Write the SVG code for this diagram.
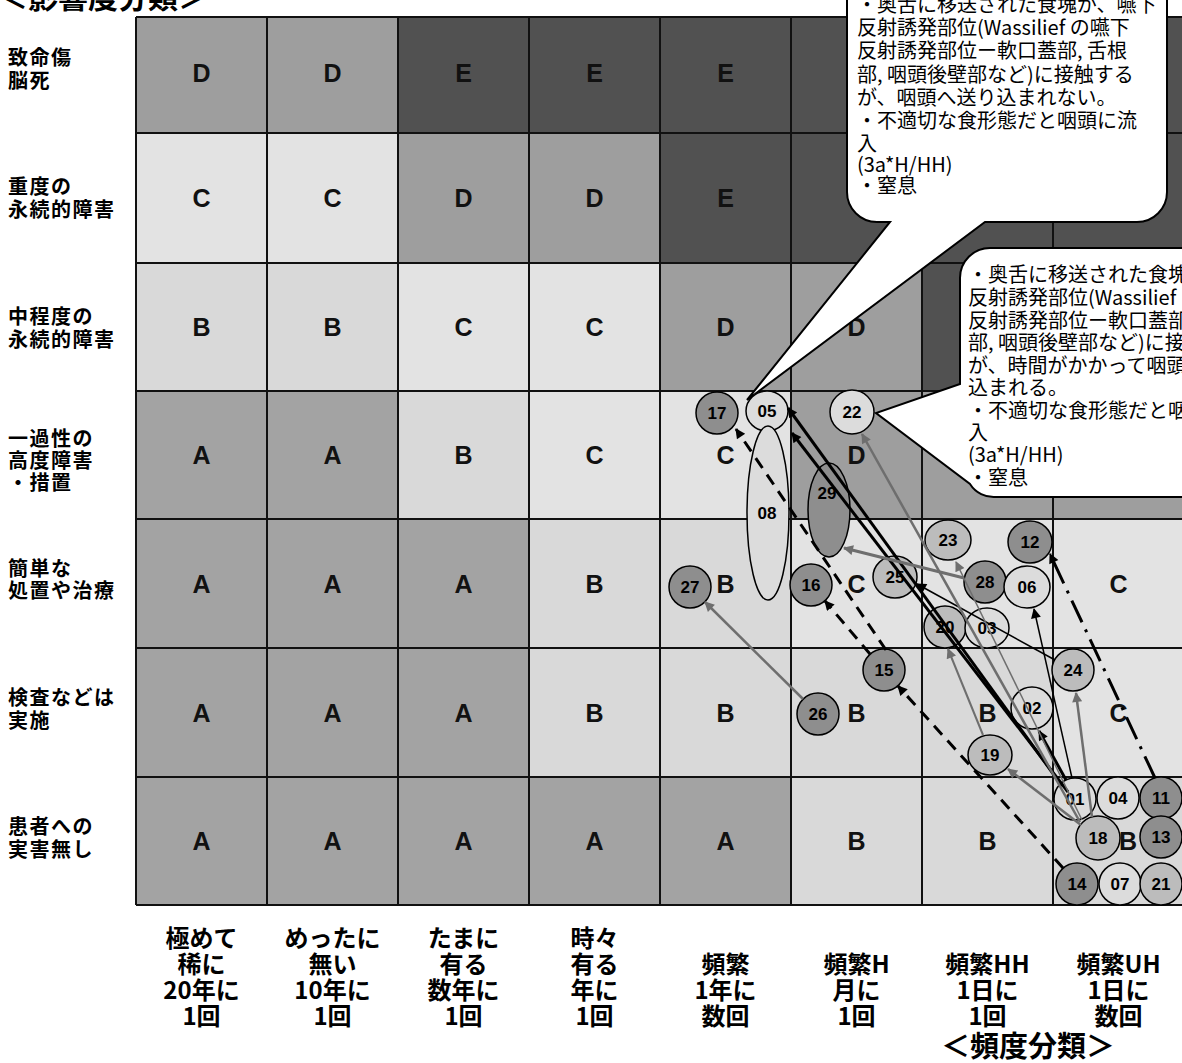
<svg xmlns="http://www.w3.org/2000/svg" width="1182" height="1063" viewBox="0 0 1182 1063">
<defs>
<style>
.A{fill:#a3a3a3}.B{fill:#d9d9d9}.C{fill:#e3e3e3}.D{fill:#9e9e9e}.E{fill:#515151}
.grid{stroke:#111;stroke-width:2;fill:none}
.gl{font-family:"Liberation Sans",Arial,sans-serif;font-weight:bold;font-size:25px;text-anchor:middle;fill:#111}
.yl{font-family:"Noto Sans CJK JP",sans-serif;font-weight:bold;font-size:20px;letter-spacing:1.5px;fill:#000}
.xl{font-family:"Noto Sans CJK JP",sans-serif;font-weight:bold;font-size:24px;text-anchor:middle;fill:#000}
.ttl{font-family:"Noto Sans CJK JP",sans-serif;font-weight:bold;font-size:30px;fill:#000}
.bub{fill:#fff;stroke:#000;stroke-width:2}
.bt{font-family:"Noto Sans CJK JP",sans-serif;font-size:20px;fill:#000}
.n{stroke:#000;stroke-width:1.5}
.n1{fill:#dcdcdc}.n2{fill:#bcbcbc}.n3{fill:#8e8e8e}
.nl{font-family:"Liberation Sans",Arial,sans-serif;font-weight:bold;font-size:17px;text-anchor:middle;fill:#000}
.k{stroke:#000;fill:none}
.g{stroke:#6e6e6e;fill:none}
.dash{stroke-dasharray:12 8}
.dd{stroke-dasharray:24 8 3 8}
</style>
<marker id="mk" viewBox="0 0 10 10" refX="9" refY="5" markerWidth="12" markerHeight="10" markerUnits="userSpaceOnUse" orient="auto"><path d="M0,0L10,5L0,10z" fill="#000"/></marker>
<marker id="mg" viewBox="0 0 10 10" refX="9" refY="5" markerWidth="12" markerHeight="10" markerUnits="userSpaceOnUse" orient="auto"><path d="M0,0L10,5L0,10z" fill="#6e6e6e"/></marker>
</defs>
<rect x="0" y="0" width="1182" height="1063" fill="#fff"/>
<text class="ttl" x="-2" y="8">＜影響度分類＞</text>

<g id="cells">
<rect class="D" x="136" y="17" width="131" height="116"/><rect class="D" x="267" y="17" width="131" height="116"/><rect class="E" x="398" y="17" width="131" height="116"/><rect class="E" x="529" y="17" width="131" height="116"/><rect class="E" x="660" y="17" width="131" height="116"/><rect class="E" x="791" y="17" width="131" height="116"/><rect class="E" x="922" y="17" width="131" height="116"/><rect class="E" x="1053" y="17" width="131" height="116"/>
<rect class="C" x="136" y="133" width="131" height="130"/><rect class="C" x="267" y="133" width="131" height="130"/><rect class="D" x="398" y="133" width="131" height="130"/><rect class="D" x="529" y="133" width="131" height="130"/><rect class="E" x="660" y="133" width="131" height="130"/><rect class="E" x="791" y="133" width="131" height="130"/><rect class="E" x="922" y="133" width="131" height="130"/><rect class="E" x="1053" y="133" width="131" height="130"/>
<rect class="B" x="136" y="263" width="131" height="128"/><rect class="B" x="267" y="263" width="131" height="128"/><rect class="C" x="398" y="263" width="131" height="128"/><rect class="C" x="529" y="263" width="131" height="128"/><rect class="D" x="660" y="263" width="131" height="128"/><rect class="D" x="791" y="263" width="131" height="128"/><rect class="E" x="922" y="263" width="131" height="128"/><rect class="E" x="1053" y="263" width="131" height="128"/>
<rect class="A" x="136" y="391" width="131" height="128"/><rect class="A" x="267" y="391" width="131" height="128"/><rect class="B" x="398" y="391" width="131" height="128"/><rect class="C" x="529" y="391" width="131" height="128"/><rect class="C" x="660" y="391" width="131" height="128"/><rect class="D" x="791" y="391" width="131" height="128"/><rect class="D" x="922" y="391" width="131" height="128"/><rect class="D" x="1053" y="391" width="131" height="128"/>
<rect class="A" x="136" y="519" width="131" height="129"/><rect class="A" x="267" y="519" width="131" height="129"/><rect class="A" x="398" y="519" width="131" height="129"/><rect class="B" x="529" y="519" width="131" height="129"/><rect class="B" x="660" y="519" width="131" height="129"/><rect class="C" x="791" y="519" width="131" height="129"/><rect class="C" x="922" y="519" width="131" height="129"/><rect class="C" x="1053" y="519" width="131" height="129"/>
<rect class="A" x="136" y="648" width="131" height="129"/><rect class="A" x="267" y="648" width="131" height="129"/><rect class="A" x="398" y="648" width="131" height="129"/><rect class="B" x="529" y="648" width="131" height="129"/><rect class="B" x="660" y="648" width="131" height="129"/><rect class="B" x="791" y="648" width="131" height="129"/><rect class="B" x="922" y="648" width="131" height="129"/><rect class="C" x="1053" y="648" width="131" height="129"/>
<rect class="A" x="136" y="777" width="131" height="128"/><rect class="A" x="267" y="777" width="131" height="128"/><rect class="A" x="398" y="777" width="131" height="128"/><rect class="A" x="529" y="777" width="131" height="128"/><rect class="A" x="660" y="777" width="131" height="128"/><rect class="B" x="791" y="777" width="131" height="128"/><rect class="B" x="922" y="777" width="131" height="128"/><rect class="B" x="1053" y="777" width="131" height="128"/>
<path class="grid" d="M136,17V905M267,17V905M398,17V905M529,17V905M660,17V905M791,17V905M922,17V905M1053,17V905M136,17H1184M136,133H1184M136,263H1184M136,391H1184M136,519H1184M136,648H1184M136,777H1184M136,905H1184"/>
</g>

<g id="grades">
<text class="gl" x="201.5" y="82">D</text><text class="gl" x="332.5" y="82">D</text><text class="gl" x="463.5" y="82">E</text><text class="gl" x="594.5" y="82">E</text><text class="gl" x="725.5" y="82">E</text>
<text class="gl" x="201.5" y="207">C</text><text class="gl" x="332.5" y="207">C</text><text class="gl" x="463.5" y="207">D</text><text class="gl" x="594.5" y="207">D</text><text class="gl" x="725.5" y="207">E</text>
<text class="gl" x="201.5" y="336">B</text><text class="gl" x="332.5" y="336">B</text><text class="gl" x="463.5" y="336">C</text><text class="gl" x="594.5" y="336">C</text><text class="gl" x="725.5" y="336">D</text><text class="gl" x="856.5" y="336">D</text>
<text class="gl" x="201.5" y="464">A</text><text class="gl" x="332.5" y="464">A</text><text class="gl" x="463.5" y="464">B</text><text class="gl" x="594.5" y="464">C</text><text class="gl" x="725.5" y="464">C</text><text class="gl" x="856.5" y="464">D</text>
<text class="gl" x="201.5" y="593">A</text><text class="gl" x="332.5" y="593">A</text><text class="gl" x="463.5" y="593">A</text><text class="gl" x="594.5" y="593">B</text><text class="gl" x="725.5" y="593">B</text><text class="gl" x="856.5" y="593">C</text><text class="gl" x="1118.5" y="593">C</text>
<text class="gl" x="201.5" y="722">A</text><text class="gl" x="332.5" y="722">A</text><text class="gl" x="463.5" y="722">A</text><text class="gl" x="594.5" y="722">B</text><text class="gl" x="725.5" y="722">B</text><text class="gl" x="856.5" y="722">B</text><text class="gl" x="987.5" y="722">B</text><text class="gl" x="1118.5" y="722">C</text>
<text class="gl" x="201.5" y="850">A</text><text class="gl" x="332.5" y="850">A</text><text class="gl" x="463.5" y="850">A</text><text class="gl" x="594.5" y="850">A</text><text class="gl" x="725.5" y="850">A</text><text class="gl" x="856.5" y="850">B</text><text class="gl" x="987.5" y="850">B</text><text class="gl" x="1128" y="850">B</text>
</g>

<g id="severity-labels">
<text class="yl" x="8" y="65">致命傷</text><text class="yl" x="8" y="88">脳死</text>
<text class="yl" x="8" y="194">重度の</text><text class="yl" x="8" y="217">永続的障害</text>
<text class="yl" x="8" y="324">中程度の</text><text class="yl" x="8" y="347">永続的障害</text>
<text class="yl" x="8" y="446">一過性の</text><text class="yl" x="8" y="468">高度障害</text><text class="yl" x="8" y="490">・措置</text>
<text class="yl" x="8" y="576">簡単な</text><text class="yl" x="8" y="598">処置や治療</text>
<text class="yl" x="8" y="705">検査などは</text><text class="yl" x="8" y="728">実施</text>
<text class="yl" x="8" y="834">患者への</text><text class="yl" x="8" y="857">実害無し</text>
</g>

<g id="frequency-labels">
<text class="xl" x="201.5" y="947">極めて</text><text class="xl" x="201.5" y="973">稀に</text><text class="xl" x="201.5" y="999">20年に</text><text class="xl" x="201.5" y="1025">1回</text>
<text class="xl" x="332.5" y="947">めったに</text><text class="xl" x="332.5" y="973">無い</text><text class="xl" x="332.5" y="999">10年に</text><text class="xl" x="332.5" y="1025">1回</text>
<text class="xl" x="463.5" y="947">たまに</text><text class="xl" x="463.5" y="973">有る</text><text class="xl" x="463.5" y="999">数年に</text><text class="xl" x="463.5" y="1025">1回</text>
<text class="xl" x="594.5" y="947">時々</text><text class="xl" x="594.5" y="973">有る</text><text class="xl" x="594.5" y="999">年に</text><text class="xl" x="594.5" y="1025">1回</text>
<text class="xl" x="725.5" y="973">頻繁</text><text class="xl" x="725.5" y="999">1年に</text><text class="xl" x="725.5" y="1025">数回</text>
<text class="xl" x="856.5" y="973">頻繁H</text><text class="xl" x="856.5" y="999">月に</text><text class="xl" x="856.5" y="1025">1回</text>
<text class="xl" x="987.5" y="973">頻繁HH</text><text class="xl" x="987.5" y="999">1日に</text><text class="xl" x="987.5" y="1025">1回</text>
<text class="xl" x="1118.5" y="973">頻繁UH</text><text class="xl" x="1118.5" y="999">1日に</text><text class="xl" x="1118.5" y="1025">数回</text>
<text class="ttl" x="1028" y="1057" text-anchor="middle" style="font-size:29px">＜頻度分類＞</text>
</g>

<g id="callout-1">
<path class="bub" d="M847,-40V192A30,30 0 0 0 877,222H890L747,400L985,222H1137A30,30 0 0 0 1167,192V-40Z"/>
<text class="bt" x="857" y="12">・奥舌に移送された食塊が、嚥下</text>
<text class="bt" x="857" y="35">反射誘発部位(Wassilief の嚥下</text>
<text class="bt" x="857" y="58">反射誘発部位ー軟口蓋部, 舌根</text>
<text class="bt" x="857" y="82">部, 咽頭後壁部など)に接触する</text>
<text class="bt" x="857" y="105">が、咽頭へ送り込まれない。</text>
<text class="bt" x="857" y="128">・不適切な食形態だと咽頭に流</text>
<text class="bt" x="857" y="151">入</text>
<text class="bt" x="857" y="172">(3a*H/HH)</text>
<text class="bt" x="857" y="193">・窒息</text>
</g>

<g id="callout-2">
<path class="bub" d="M990,248H1250V497H996A28,28 0 0 1 970,484L876,413L960,384V278A30,30 0 0 1 990,248Z"/>
<text class="bt" x="968" y="282">・奥舌に移送された食塊</text>
<text class="bt" x="968" y="305">反射誘発部位(Wassilief</text>
<text class="bt" x="968" y="328">反射誘発部位ー軟口蓋部</text>
<text class="bt" x="968" y="350">部, 咽頭後壁部など)に接</text>
<text class="bt" x="968" y="373">が、時間がかかって咽頭</text>
<text class="bt" x="968" y="395">込まれる。</text>
<text class="bt" x="968" y="418">・不適切な食形態だと咽</text>
<text class="bt" x="968" y="440">入</text>
<text class="bt" x="968" y="462">(3a*H/HH)</text>
<text class="bt" x="968" y="485">・窒息</text>
</g>

<g id="nodes">
<g id="node-17"><ellipse class="n n3" cx="717" cy="413" rx="21" ry="21"/><text class="nl" x="717" y="419">17</text></g>
<g id="node-05"><ellipse class="n n1" cx="767" cy="411" rx="21" ry="20"/><text class="nl" x="767" y="417">05</text></g>
<g id="node-22"><ellipse class="n n1" cx="852" cy="412" rx="22" ry="22"/><text class="nl" x="852" y="418">22</text></g>
<g id="node-08"><ellipse class="n n1" cx="768" cy="513" rx="21" ry="87"/><text class="nl" x="767" y="519">08</text></g>
<g id="node-29"><ellipse class="n n3" cx="829" cy="510" rx="21" ry="47"/><text class="nl" x="827" y="499">29</text></g>
<g id="node-27"><ellipse class="n n3" cx="690" cy="587" rx="21" ry="21"/><text class="nl" x="690" y="593">27</text></g>
<g id="node-16"><ellipse class="n n3" cx="811" cy="585" rx="21" ry="21"/><text class="nl" x="811" y="591">16</text></g>
<g id="node-25"><ellipse class="n n2" cx="895" cy="577" rx="22" ry="21"/><text class="nl" x="895" y="583">25</text></g>
<g id="node-23"><ellipse class="n n2" cx="948" cy="540" rx="23" ry="20"/><text class="nl" x="948" y="546">23</text></g>
<g id="node-12"><ellipse class="n n3" cx="1030" cy="542" rx="22" ry="21"/><text class="nl" x="1030" y="548">12</text></g>
<g id="node-28"><ellipse class="n n3" cx="985" cy="582" rx="21" ry="21"/><text class="nl" x="985" y="588">28</text></g>
<g id="node-06"><ellipse class="n n1" cx="1027" cy="587" rx="23" ry="21"/><text class="nl" x="1027" y="593">06</text></g>
<g id="node-20"><ellipse class="n n2" cx="945" cy="627" rx="21" ry="21"/><text class="nl" x="945" y="633">20</text></g>
<g id="node-03"><ellipse class="n n1" cx="987" cy="628" rx="22" ry="20"/><text class="nl" x="987" y="634">03</text></g>
<g id="node-15"><ellipse class="n n3" cx="884" cy="670" rx="21" ry="21"/><text class="nl" x="884" y="676">15</text></g>
<g id="node-26"><ellipse class="n n3" cx="818" cy="714" rx="21" ry="21"/><text class="nl" x="818" y="720">26</text></g>
<g id="node-24"><ellipse class="n n2" cx="1073" cy="670" rx="21" ry="21"/><text class="nl" x="1073" y="676">24</text></g>
<g id="node-02"><ellipse class="n n1" cx="1032" cy="708" rx="21" ry="21"/><text class="nl" x="1032" y="714">02</text></g>
<g id="node-19"><ellipse class="n n2" cx="990" cy="755" rx="22" ry="20"/><text class="nl" x="990" y="761">19</text></g>
<g id="node-01"><ellipse class="n n1" cx="1075" cy="799" rx="21" ry="21"/><text class="nl" x="1075" y="805">01</text></g>
<g id="node-04"><ellipse class="n n1" cx="1118" cy="798" rx="21" ry="21"/><text class="nl" x="1118" y="804">04</text></g>
<g id="node-11"><ellipse class="n n3" cx="1161" cy="798" rx="21" ry="21"/><text class="nl" x="1161" y="804">11</text></g>
<g id="node-18"><ellipse class="n n2" cx="1098" cy="838" rx="22" ry="22"/><text class="nl" x="1098" y="844">18</text></g>
<g id="node-13"><ellipse class="n n3" cx="1161" cy="837" rx="21" ry="21"/><text class="nl" x="1161" y="843">13</text></g>
<g id="node-14"><ellipse class="n n3" cx="1077" cy="884" rx="21" ry="21"/><text class="nl" x="1077" y="890">14</text></g>
<g id="node-07"><ellipse class="n n1" cx="1120" cy="884" rx="21" ry="21"/><text class="nl" x="1120" y="890">07</text></g>
<g id="node-21"><ellipse class="n n2" cx="1161" cy="884" rx="21" ry="21"/><text class="nl" x="1161" y="890">21</text></g>
</g>

<g id="connectors">
<line class="k dash" x1="1063" y1="868" x2="898" y2="686" stroke-width="3" marker-end="url(#mk)"/>
<line class="k dash" x1="870" y1="654" x2="825" y2="601" stroke-width="3" marker-end="url(#mk)"/>
<line class="k dash" x1="886" y1="650" x2="736" y2="429" stroke-width="3" marker-end="url(#mk)"/>
<line class="k" x1="1062" y1="786" x2="788" y2="408" stroke-width="3" marker-end="url(#mk)"/>
<line class="k" x1="1068" y1="792" x2="792" y2="433" stroke-width="3" marker-end="url(#mk)"/>
<line class="k" x1="1066" y1="780" x2="1039" y2="731" stroke-width="3" marker-end="url(#mk)"/>
<line class="k" x1="1072" y1="778" x2="1034" y2="609" stroke-width="1.5" marker-end="url(#mk)"/>
<line class="k" x1="1055" y1="660" x2="917" y2="584" stroke-width="1.5" marker-end="url(#mk)"/>
<line class="k dd" x1="1155" y1="778" x2="1050" y2="554" stroke-width="3" marker-end="url(#mk)"/>
<line class="g" x1="803" y1="699" x2="705" y2="602" stroke-width="2.5" marker-end="url(#mg)"/>
<line class="g" x1="964" y1="578" x2="844" y2="548" stroke-width="3" marker-end="url(#mg)"/>
<line class="g" x1="1080" y1="822" x2="862" y2="434" stroke-width="2.5" marker-end="url(#mg)"/>
<line class="g" x1="983" y1="735" x2="948" y2="649" stroke-width="2" marker-end="url(#mg)"/>
<line class="g" x1="1081" y1="825" x2="1008" y2="769" stroke-width="2.5" marker-end="url(#mg)"/>
<line class="g" x1="1092" y1="817" x2="1076" y2="693" stroke-width="2.5" marker-end="url(#mg)"/>
<line class="g" x1="1082" y1="820" x2="956" y2="562" stroke-width="1.5" marker-end="url(#mg)"/>
</g>
</svg>
